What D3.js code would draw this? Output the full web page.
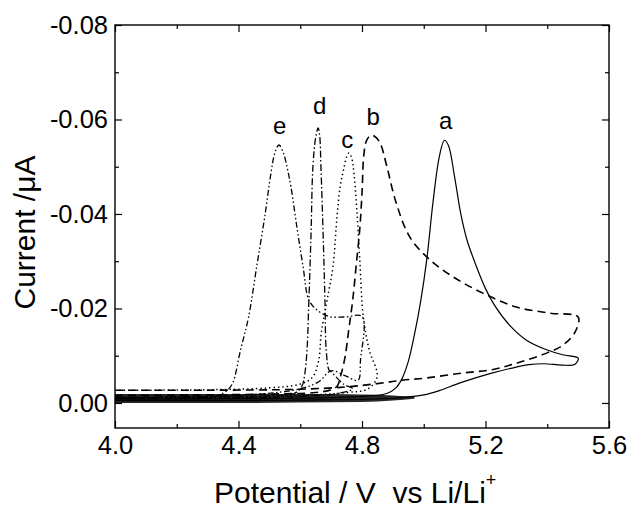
<!DOCTYPE html>
<html>
<head>
<meta charset="utf-8">
<script src="https://cdn.jsdelivr.net/npm/d3@7"></script>
<style>
  html, body { margin: 0; padding: 0; background: #fff; }
  svg { display: block; font-family: "Liberation Sans", Arial, sans-serif; }
</style>
</head>
<body>
<svg id="chart" width="630" height="508"></svg>
<script>
// ---------- data (potential V, current µA) ----------
const xMajorTicks = [4.0, 4.4, 4.8, 5.2, 5.6];
const xMinorTicks = [4.2, 4.6, 5.0, 5.4];
const yMajorTicks = [0.00, -0.02, -0.04, -0.06, -0.08];
const yMinorTicks = [-0.01, -0.03, -0.05, -0.07];

// curve a (solid)
const curveA = [
  [4.0,-0.0008],[4.2,-0.0008],[4.4,-0.0009],[4.6,-0.0010],[4.8,-0.0014],[4.88,-0.0020],
  [4.91,-0.0032],[4.93,-0.0052],[4.95,-0.0088],[4.97,-0.0145],[4.99,-0.0215],[5.01,-0.0305],
  [5.03,-0.0425],[5.05,-0.0520],[5.067,-0.0556],[5.08,-0.0545],[5.10,-0.0478],[5.12,-0.0400],
  [5.14,-0.0345],[5.17,-0.0290],[5.20,-0.0242],[5.23,-0.0206],[5.28,-0.0163],[5.33,-0.0134],
  [5.40,-0.0112],[5.45,-0.0102],[5.50,-0.0095],
  [5.49,-0.0082],[5.45,-0.0080],[5.39,-0.0083],[5.34,-0.0081],[5.30,-0.0076],[5.22,-0.0063],
  [5.12,-0.0043],[5.05,-0.0026],[5.00,-0.0017],[4.9,-0.0010],[4.6,-0.0006],[4.3,-0.0005],[4.0,-0.0005]
];
// curve b (dashed)
const curveB = [
  [4.0,-0.0016],[4.3,-0.0017],[4.5,-0.0019],[4.65,-0.0022],[4.70,-0.0028],[4.72,-0.0036],
  [4.73,-0.0055],[4.745,-0.0097],[4.757,-0.0154],[4.77,-0.0218],[4.781,-0.0290],[4.793,-0.0370],
  [4.80,-0.0444],[4.806,-0.0525],[4.815,-0.0556],[4.831,-0.0567],[4.845,-0.0562],[4.86,-0.0548],
  [4.88,-0.0502],[4.91,-0.0425],[4.955,-0.0351],[5.02,-0.0303],[5.095,-0.0267],[5.19,-0.0233],
  [5.30,-0.0203],[5.41,-0.0190],[5.50,-0.0182],
  [5.49,-0.0150],[5.45,-0.0122],[5.40,-0.0106],[5.31,-0.0086],[5.225,-0.0071],[5.12,-0.0063],
  [5.01,-0.0053],[4.93,-0.0048],[4.85,-0.0041],[4.75,-0.0034],[4.6,-0.0029],[4.3,-0.0027],[4.0,-0.0027]
];
// curve c (dotted)
const curveC = [
  [4.0,-0.0027],[4.3,-0.0028],[4.5,-0.0032],[4.6,-0.0040],[4.64,-0.0055],[4.66,-0.0091],
  [4.668,-0.0148],[4.687,-0.0218],[4.706,-0.0289],[4.719,-0.0394],[4.729,-0.0457],[4.739,-0.0490],
  [4.75,-0.0520],[4.758,-0.0529],[4.766,-0.0520],[4.774,-0.0486],[4.784,-0.0400],[4.793,-0.0300],
  [4.804,-0.0183],[4.823,-0.0113],[4.849,-0.0056],
  [4.82,-0.0030],[4.75,-0.0022],[4.6,-0.0016],[4.3,-0.0013],[4.0,-0.0012]
];
// curve d (dash-dot)
const curveD = [
  [4.0,-0.0012],[4.3,-0.0013],[4.5,-0.0015],[4.58,-0.0020],[4.605,-0.0035],[4.615,-0.0063],
  [4.622,-0.0113],[4.628,-0.0218],[4.635,-0.0359],[4.641,-0.0500],[4.650,-0.0562],[4.658,-0.0582],
  [4.663,-0.0565],[4.667,-0.0500],[4.674,-0.0359],[4.680,-0.0218],[4.684,-0.0113],[4.693,-0.0070],
  [4.70,-0.0066],[4.74,-0.0040],[4.77,-0.0030],[4.72,-0.0020],[4.6,-0.0014],[4.3,-0.0010],[4.0,-0.0010]
];
// curve e (dash-dot-dot)
const curveE = [
  [4.0,-0.0010],[4.2,-0.0011],[4.33,-0.0015],[4.365,-0.0028],[4.381,-0.0042],[4.407,-0.0113],
  [4.433,-0.0183],[4.459,-0.0289],[4.485,-0.0394],[4.505,-0.0486],[4.518,-0.0530],[4.531,-0.0546],
  [4.545,-0.0530],[4.557,-0.0500],[4.570,-0.0457],[4.589,-0.0373],[4.609,-0.0289],[4.628,-0.0218],
  [4.654,-0.0197],[4.693,-0.0183],[4.745,-0.0182],[4.800,-0.0183],
  [4.795,-0.0090],[4.787,-0.0048],[4.745,-0.0058],[4.700,-0.0068],[4.66,-0.0045],[4.60,-0.0030],
  [4.45,-0.0018],[4.2,-0.0012],[4.0,-0.0011]
];
// noisy low-current band (envelope)
const noiseX      = [4.0, 4.2, 4.4, 4.6, 4.8, 4.9, 4.97];
const noiseTop    = [-0.0019, -0.0019, -0.0019, -0.0019, -0.0018, -0.0016, -0.0013];
const noiseBottom = [0.0000, 0.0000, 0.0000, -0.0001, -0.0002, -0.0005, -0.0009];

const curveLabels = ["a", "b", "c", "d", "e"];
const labelX = [5.071, 4.836, 4.752, 4.663, 4.533];
const labelY = [-0.0598, -0.0607, -0.0558, -0.0630, -0.0588];

// ---------- drawing ----------
const svg = d3.select("#chart");
const L = 115, R = 609, T = 25, B = 428;
const x = d3.scaleLinear().domain([4.0, 5.6]).range([L, R]);
const y = d3.scaleLinear().domain([0.0053, -0.08]).range([B, T]);

svg.append("rect").attr("width", 630).attr("height", 508).attr("fill", "#fff");

// noise band
const band = d3.area()
  .x((d, i) => x(noiseX[i]))
  .y0((d, i) => y(noiseBottom[i]))
  .y1((d, i) => y(noiseTop[i]))
  .curve(d3.curveMonotoneX);
svg.append("path").datum(noiseX).attr("d", band).attr("fill", "#262626");

const line = d3.line().x(d => x(d[0])).y(d => y(d[1])).curve(d3.curveCatmullRom.alpha(0.5));
const series = [
  {data: curveA, dash: null, w: 1.2},
  {data: curveB, dash: "8,5", w: 1.6},
  {data: curveC, dash: "1.4,3", w: 1.5},
  {data: curveD, dash: "7,2.5,1.5,2.5", w: 1.3},
  {data: curveE, dash: "6,2.5,1.5,2.5,1.5,2.5", w: 1.3}
];
series.forEach(s => {
  svg.append("path").datum(s.data).attr("d", line)
    .attr("fill", "none").attr("stroke", "#000")
    .attr("stroke-width", s.w)
    .attr("stroke-dasharray", s.dash);
});

// curve labels
curveLabels.forEach((t, i) => {
  svg.append("text").attr("x", x(labelX[i])).attr("y", y(labelY[i]))
    .attr("text-anchor", "middle").attr("dominant-baseline", "central")
    .attr("font-size", 24).attr("fill", "#000").text(t);
});

// axes
const fmt = d => d.toFixed(2);
function styleAxis(g) {
  g.select(".domain").remove();
  g.selectAll("line").attr("stroke", "#000").attr("stroke-width", 1.2);
  g.selectAll("text").attr("font-size", 25.5).attr("fill", "#000")
    .attr("font-family", "Liberation Sans, Arial, sans-serif");
}
svg.append("g").attr("transform", `translate(0,${B})`)
  .call(d3.axisBottom(x).tickValues(xMajorTicks).tickSize(-7).tickPadding(8).tickFormat(d3.format(".1f")))
  .call(styleAxis);
svg.append("g").attr("transform", `translate(0,${B})`)
  .call(d3.axisBottom(x).tickValues(xMinorTicks).tickSize(-4).tickFormat(""))
  .call(styleAxis);
svg.append("g").attr("transform", `translate(0,${T})`)
  .call(d3.axisTop(x).tickValues(xMajorTicks).tickSize(-7).tickFormat(""))
  .call(styleAxis);
svg.append("g").attr("transform", `translate(0,${T})`)
  .call(d3.axisTop(x).tickValues(xMinorTicks).tickSize(-4).tickFormat(""))
  .call(styleAxis);
svg.append("g").attr("transform", `translate(${L},0)`)
  .call(d3.axisLeft(y).tickValues(yMajorTicks).tickSize(-7).tickPadding(7).tickFormat(fmt))
  .call(styleAxis);
svg.append("g").attr("transform", `translate(${L},0)`)
  .call(d3.axisLeft(y).tickValues(yMinorTicks).tickSize(-4).tickFormat(""))
  .call(styleAxis);
svg.append("g").attr("transform", `translate(${R},0)`)
  .call(d3.axisRight(y).tickValues(yMajorTicks).tickSize(-7).tickFormat(""))
  .call(styleAxis);
svg.append("g").attr("transform", `translate(${R},0)`)
  .call(d3.axisRight(y).tickValues(yMinorTicks).tickSize(-4).tickFormat(""))
  .call(styleAxis);

// frame
svg.append("rect").attr("x", L).attr("y", T).attr("width", R - L).attr("height", B - T)
  .attr("fill", "none").attr("stroke", "#000").attr("stroke-width", 1.4);

// axis titles
const xt = svg.append("text").attr("x", 214).attr("y", 503)
  .attr("font-size", 30).attr("fill", "#000");
xt.append("tspan").text("Potential / V\u00a0\u00a0vs Li/Li");
xt.append("tspan").attr("font-size", 18).attr("dy", -17).text("+");

svg.append("text")
  .attr("transform", `translate(35,${(T + B) / 2 + 6}) rotate(-90)`)
  .attr("text-anchor", "middle").attr("font-size", 30).attr("fill", "#000")
  .text("Current /\u03bcA");
</script>
</body>
</html>
